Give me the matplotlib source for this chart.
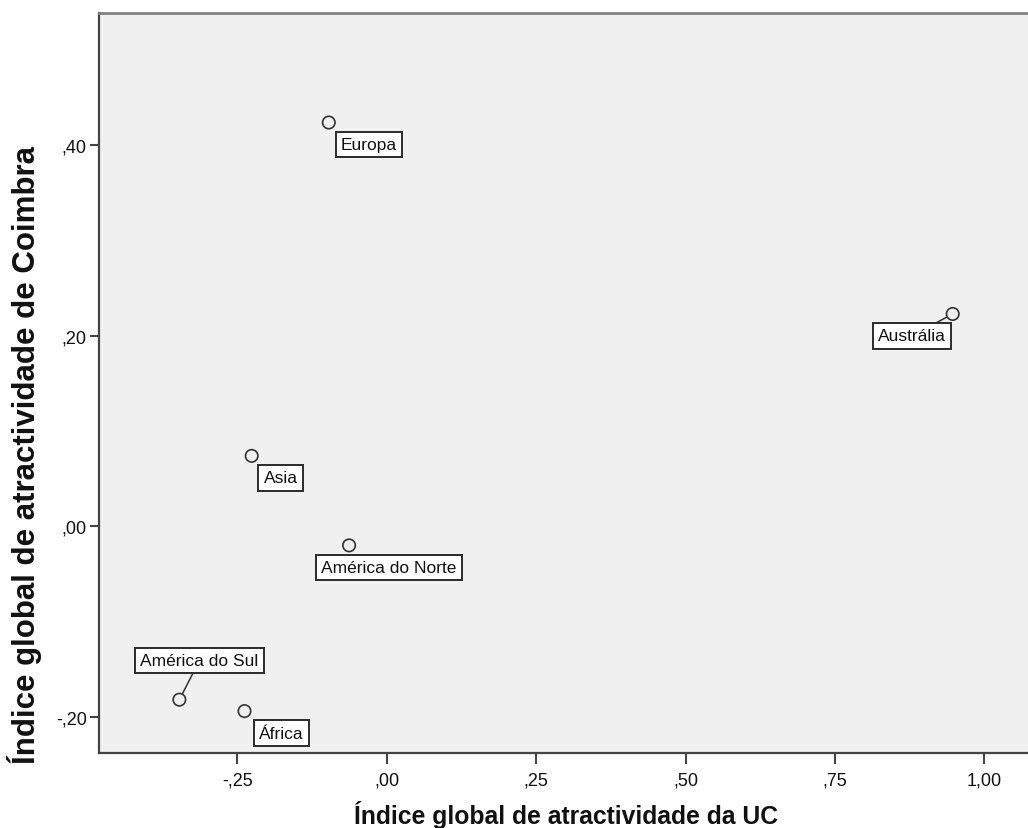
import matplotlib
matplotlib.use("Agg")
import matplotlib.pyplot as plt
from matplotlib.ticker import FixedLocator, FixedFormatter

plt.rcParams['font.family'] = ['Liberation Sans', 'DejaVu Sans']

# Regional attractiveness indices
regions = ["Europa", "Austrália", "Asia", "América do Norte", "América do Sul", "África"]
uc_index = [-0.097, 0.947, -0.226, -0.063, -0.347, -0.238]
coimbra_index = [0.424, 0.223, 0.074, -0.020, -0.182, -0.194]

# Label offsets (pixels) relative to each point, and whether a leader line is drawn
label_offsets = [(40, -22), (-41, -22), (29, -22), (40, -22), (20, 39), (37, -22)]
leader_lines = [False, True, False, False, True, False]

x_ticks = [-0.25, 0.0, 0.25, 0.50, 0.75, 1.00]
x_tick_labels = ["-,25", ",00", ",25", ",50", ",75", "1,00"]
y_ticks = [-0.20, 0.0, 0.20, 0.40]
y_tick_labels = ["-,20", ",00", ",20", ",40"]

W, H = 1028, 829
fig = plt.figure(figsize=(W / 100, H / 100), dpi=100)
left_px, right_px, top_px, bottom_px = 98.7, 1028.0, 14.0, 754.0
ax = fig.add_axes([left_px / W, 1 - bottom_px / H,
                   (right_px - left_px) / W, (bottom_px - top_px) / H])
ax.set_facecolor('#f0f0f0')

ax.set_xlim(-0.482, 1.073)
ax.set_ylim(-0.238, 0.539)

ax.scatter(uc_index, coimbra_index, s=80, facecolors='none',
           edgecolors='#333333', linewidths=1.2, zorder=3)

for name, x, y, off, lead in zip(regions, uc_index, coimbra_index,
                                  label_offsets, leader_lines):
    kw = {}
    if lead:
        kw['arrowprops'] = dict(arrowstyle='-', color='#333333', lw=1.1,
                                shrinkA=0, shrinkB=5)
    ax.annotate(name, xy=(x, y), xytext=off, textcoords='offset pixels',
                ha='center', va='center', fontsize=12.5, color='#111111',
                bbox=dict(boxstyle='square,pad=0.3', fc='white',
                          ec='#2b2b2b', lw=1.4),
                zorder=4, **kw)

ax.xaxis.set_major_locator(FixedLocator(x_ticks))
ax.xaxis.set_major_formatter(FixedFormatter(x_tick_labels))
ax.yaxis.set_major_locator(FixedLocator(y_ticks))
ax.yaxis.set_major_formatter(FixedFormatter(y_tick_labels))
ax.tick_params(axis='x', direction='out', length=8, width=1.5, color='#444444',
               labelsize=13, pad=5, labelcolor='#111111')
ax.tick_params(axis='y', direction='out', length=6.5, width=1.5, color='#444444',
               labelsize=13, pad=2, labelcolor='#111111')

for side in ('left', 'bottom'):
    ax.spines[side].set_color('#444444')
    ax.spines[side].set_linewidth(1.6)
ax.spines['top'].set_color('#808080')
ax.spines['top'].set_linewidth(2.0)
ax.spines['right'].set_visible(False)

ax.set_xlabel("Índice global de atractividade da UC", fontsize=17.8,
              fontweight='bold', color='#111111')
ax.xaxis.set_label_coords(0.503, -0.064)
ax.set_ylabel("Índice global de atractividade de Coimbra", fontsize=22.5,
              fontweight='bold', color='#111111')
ax.yaxis.set_label_coords(-0.061, 0.404)

fig.savefig("out.png", dpi=100)
